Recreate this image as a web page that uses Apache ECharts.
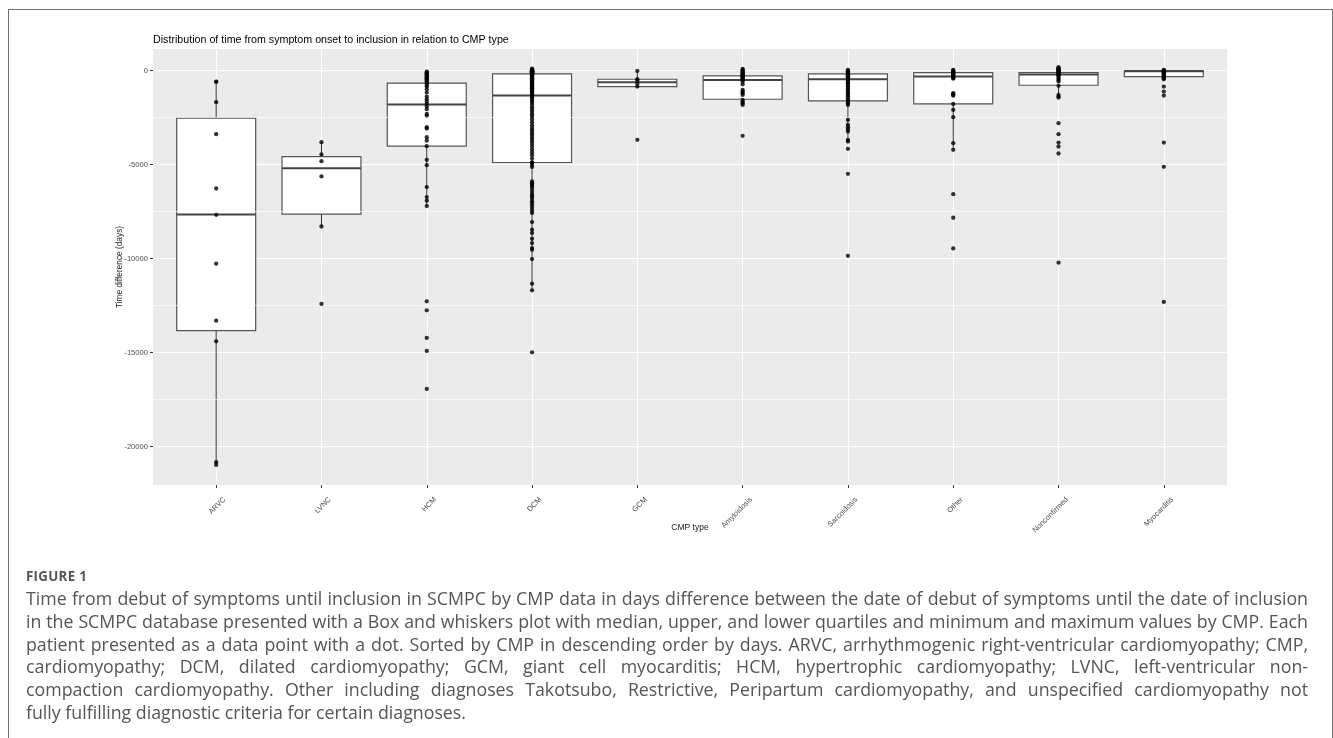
<!DOCTYPE html>
<html>
<head>
<meta charset="utf-8">
<script src="https://cdn.jsdelivr.net/npm/echarts@6/dist/echarts.min.js"></script>
<style>
html, body { margin:0; padding:0; background:#fff; width:1333px; height:738px; overflow:hidden; }
#chart { position:absolute; left:0; top:0; width:1333px; height:738px; }
#frame { position:absolute; left:8px; top:9px; width:1325px; height:760px; border:1px solid #707070; box-sizing:border-box; pointer-events:none; }
#figlabel { position:absolute; left:26px; top:568px; font-family:'Open Sans', sans-serif; font-weight:700; font-size:13.3px; letter-spacing:0.3px; color:#555; line-height:17px; }
#caption { position:absolute; left:26px; top:587px; width:1282px; font-family:'Open Sans', sans-serif; color:#555; }
#caption div { text-align:justify; text-align-last:justify; white-space:nowrap; }
#caption div.last { text-align:left; text-align-last:left; }
</style>
</head>
<body>
<div id="chart"></div>
<div id="frame"></div>
<div id="figlabel">FIGURE 1</div>
<div id="caption"></div>
<script>
// ---------------- data ----------------
const chartTitle = 'Distribution of time from symptom onset to inclusion in relation to CMP type';
const categories = ['ARVC', 'LVNC', 'HCM', 'DCM', 'GCM', 'Amyloidosis', 'Sarcoidosis', 'Other', 'Nonconfirmed', 'Myocarditis'];
const yTicks = [-20000, -15000, -10000, -5000, 0];
const yMinorGrid = [-17500, -12500, -7500, -2500];

// box statistics (days)
const whiskerLow  = [-20970, -8290, -7205, -11688, -850, -1823, -3771, -4214, -1433, -470];
const quart1      = [-13830, -7630, -4020, -4886, -850, -1522, -1610, -1771, -777, -317];
const medianVals  = [-7650, -5190, -1805, -1328, -619, -494, -460, -317, -210, -35];
const quart3      = [-2530, -4570, -670, -175, -460, -282, -175, -104, -104, 0];
const whiskerHigh = [-580, -3805, -60, 100, -16, 90, 37, 37, 180, 37];

// individual patients (days)
const arvcPts = [-580, -600, -1680, -3380, -6270, -7670, -10270, -13300, -14400, -20830, -20970];
const lvncPts = [-3805, -4460, -4815, -5630, -8290, -12410];
const hcmPts = [-60, -110, -150, -190, -230, -280, -320, -370, -410, -460, -500, -560, -610, -680, -760, -850, -990, -1170, -1380, -1520, -1650, -1770,
  -1912, -2053, -2301, -2390, -3010, -3080, -3540, -3718, -4018, -4744, -5028, -6196, -6727, -6922, -7205, -12270, -12748, -14218, -14909, -16928];
const dcmPts = [100, 60, 40, 20, 10, 0, -5, -10, -15, -20, -30, -35, -40, -50, -60, -70, -75, -80, -90, -100, -110, -120, -130, -140, -150, -160, -170, -175,
  -190, -220, -250, -280, -310, -340, -370, -400, -430, -460, -500, -540, -580, -620, -660, -700, -740, -790, -840, -890, -940, -1000, -1060, -1120, -1180, -1230, -1280, -1320,
  -1340, -1420, -1510, -1600, -1700, -1820, -1950, -2080, -2200, -2330, -2450, -2600, -2750, -2900, -3050, -3170, -3290, -3400, -3520, -3640, -3760, -3900, -4050, -4200, -4350, -4500, -4680, -4880,
  -4900, -5000, -5120, -5896, -5990, -6080, -6162, -6300, -6450, -6600, -6694, -6820, -6950, -7048, -7180, -7313, -7450, -7579, -8057, -8464, -8641, -8942, -9172, -9438, -9527, -10023, -11334, -11688, -14982];
const gcmPts = [-16, -460, -550, -700, -850, -3683];
const amyPts = [90, 30, 0, -50, -104, -130, -175, -200, -246, -280, -317, -350, -406, -450, -494, -583, -724, -1025, -1114, -1202, -1291, -1557, -1645, -1734, -1823, -3470];
const sarcPts = [37, 0, -34, -60, -104, -130, -175, -200, -246, -280, -317, -350, -388, -420, -460, -530, -600, -673, -761, -850, -938, -1025, -1114, -1202, -1291, -1380, -1468, -1557, -1645, -1734, -1823,
  -2620, -2886, -3010, -3117, -3240, -3683, -3771, -4160, -5490, -9850];
const otherPts = [37, 0, -35, -70, -104, -140, -175, -210, -246, -280, -317, -350, -388, -430, -1200, -1240, -1290, -1330, -1771, -2090, -2478, -3860, -4214, -6570, -7826, -9455];
const nonconfPts = [180, 130, 90, 60, 37, 10, -34, -60, -104, -140, -175, -210, -246, -317, -406, -494, -583, -806, -1291, -1380, -1433, -2797, -3380, -3825, -4037, -4409, -10217];
const myoPts = [37, 10, 0, -20, -35, -60, -90, -120, -150, -190, -230, -270, -317, -360, -400, -460, -850, -1115, -1328, -3825, -5117, -12305];

const captionLines = [
  'Time from debut of symptoms until inclusion in SCMPC by CMP data in days difference between the date of debut of symptoms until the date of inclusion',
  'in the SCMPC database presented with a Box and whiskers plot with median, upper, and lower quartiles and minimum and maximum values by CMP. Each',
  'patient presented as a data point with a dot. Sorted by CMP in descending order by days. ARVC, arrhythmogenic right-ventricular cardiomyopathy; CMP,',
  'cardiomyopathy; DCM, dilated cardiomyopathy; GCM, giant cell myocarditis; HCM, hypertrophic cardiomyopathy; LVNC, left-ventricular non-',
  'compaction cardiomyopathy. Other including diagnoses Takotsubo, Restrictive, Peripartum cardiomyopathy, and unspecified cardiomyopathy not',
  'fully fulfilling diagnostic criteria for certain diagnoses.'
];

// ---------------- caption ----------------
(function () {
  const cap = document.getElementById('caption');
  const ctx = document.createElement('canvas').getContext('2d');
  ctx.font = '16px "Open Sans"';
  let fs = 20;
  captionLines.slice(0, captionLines.length - 1).forEach(l => {
    const w = ctx.measureText(l).width;
    fs = Math.min(fs, 16 * 1276 / w);
  });
  cap.style.fontSize = fs + 'px';
  cap.style.lineHeight = '22.8px';
  captionLines.forEach((l, i) => {
    const d = document.createElement('div');
    d.textContent = l;
    if (i === captionLines.length - 1) d.className = 'last';
    cap.appendChild(d);
  });
})();

// ---------------- chart ----------------
const catIdx = categories.map((c, i) => i);
const pointSets = [arvcPts, lvncPts, hcmPts, dcmPts, gcmPts, amyPts, sarcPts, otherPts, nonconfPts, myoPts];
const scatterData = [];
pointSets.forEach((arr, i) => arr.forEach(v => scatterData.push([i, v])));
const boxData = categories.map((c, i) => [i, whiskerLow[i], quart1[i], medianVals[i], quart3[i], whiskerHigh[i]]);

const chart = echarts.init(document.getElementById('chart'), null, { renderer: 'canvas' });
const axisFont = 'Liberation Sans, Arial, sans-serif';

chart.setOption({
  animation: false,
  textStyle: { fontFamily: axisFont },
  title: {
    text: chartTitle, left: 153, top: 34.6, padding: 0,
    textStyle: { fontSize: 10.7, fontWeight: 'normal', color: '#000', fontFamily: axisFont }
  },
  grid: {
    left: 153, top: 49, width: 1074, height: 436,
    show: true, backgroundColor: '#EBEBEB', borderWidth: 0,
    containLabel: false, outerBoundsMode: 'none'
  },
  xAxis: {
    type: 'value', min: -0.6, max: 9.6,
    axisLine: { show: false, onZero: false },
    axisTick: { show: true, customValues: catIdx, length: 3, lineStyle: { color: '#333', width: 1 } },
    axisLabel: {
      customValues: catIdx,
      formatter: function (v) { return categories[Math.round(v)]; },
      rotate: 45, margin: 5, align: 'right', verticalAlign: 'top', padding: [8, 0, 0, 0],
      fontSize: 7.5, color: '#4d4d4d', fontFamily: axisFont
    },
    splitLine: { show: true, lineStyle: { color: '#ffffff', width: 1.1 } },
    name: 'CMP type', nameLocation: 'middle', nameGap: 38, nameMoveOverlap: false,
    nameTextStyle: { fontSize: 8.5, color: '#1a1a1a', fontFamily: axisFont }
  },
  yAxis: {
    type: 'value', min: -22040, max: 1150,
    axisLine: { show: false, onZero: false },
    axisTick: { show: true, customValues: yTicks, length: 3, lineStyle: { color: '#333', width: 1 } },
    axisLabel: {
      customValues: yTicks, margin: 5, fontSize: 7.6, color: '#4d4d4d', fontFamily: axisFont,
      formatter: function (v) { return String(v); }
    },
    splitLine: { show: true, lineStyle: { color: '#ffffff', width: 1.1 } },
    name: 'Time difference (days)', nameLocation: 'middle', nameGap: 29, nameMoveOverlap: false,
    nameTextStyle: { fontSize: 8.3, color: '#1a1a1a', fontFamily: axisFont }
  },
  series: [
    {
      type: 'line', data: [], z: 1, silent: true,
      markLine: {
        silent: true, symbol: ['none', 'none'], label: { show: false }, animation: false,
        lineStyle: { color: '#ffffff', width: 0.6, type: 'solid' },
        emphasis: { disabled: true },
        data: yMinorGrid.map(v => ({ yAxis: v }))
      }
    },
    {
      type: 'custom', z: 3, silent: true,
      data: boxData,
      encode: { x: 0, y: [1, 2, 3, 4, 5] },
      renderItem: function (params, api) {
        const x = api.value(0);
        const lo = api.coord([x, api.value(1)]);
        const q1 = api.coord([x, api.value(2)]);
        const md = api.coord([x, api.value(3)]);
        const q3 = api.coord([x, api.value(4)]);
        const hi = api.coord([x, api.value(5)]);
        const w = api.size([0.75, 0])[0];
        const cx = q1[0];
        return {
          type: 'group',
          children: [
            { type: 'line', shape: { x1: cx, y1: q3[1], x2: cx, y2: hi[1] }, style: { stroke: '#333', lineWidth: 1 } },
            { type: 'line', shape: { x1: cx, y1: q1[1], x2: cx, y2: lo[1] }, style: { stroke: '#333', lineWidth: 1 } },
            { type: 'rect', shape: { x: cx - w / 2, y: q3[1], width: w, height: Math.max(q1[1] - q3[1], 0.5) }, style: { fill: '#ffffff', stroke: '#555', lineWidth: 1.2 } },
            { type: 'line', shape: { x1: cx - w / 2, y1: md[1], x2: cx + w / 2, y2: md[1] }, style: { stroke: '#444', lineWidth: 2 } }
          ]
        };
      }
    },
    {
      type: 'scatter', z: 5, silent: true,
      data: scatterData,
      symbol: 'circle', symbolSize: 4.3,
      itemStyle: { color: '#000000' }
    }
  ]
});
</script>
</body>
</html>
